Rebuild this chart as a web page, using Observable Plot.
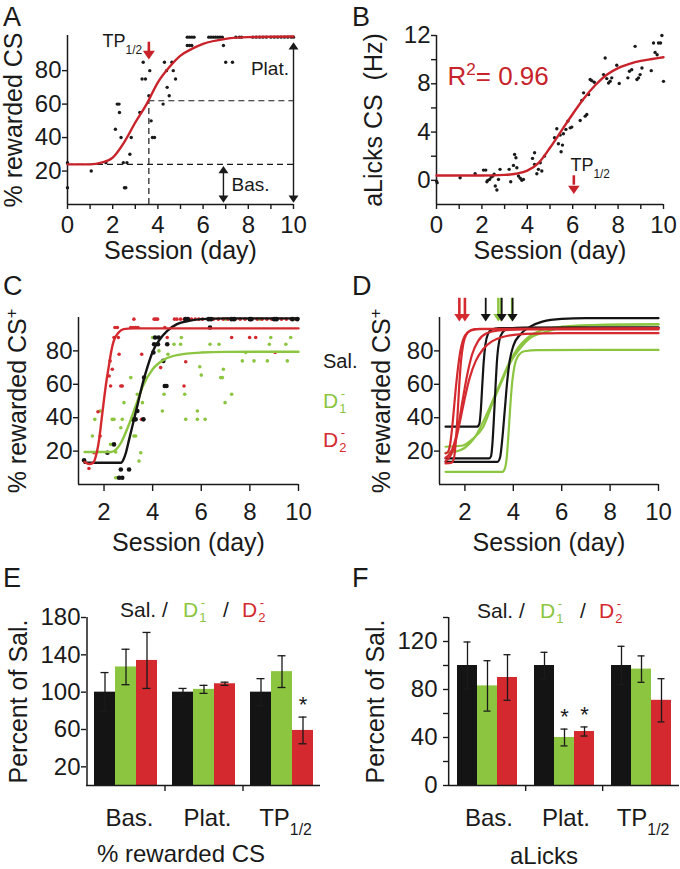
<!DOCTYPE html>
<html>
<head>
<meta charset="utf-8">
<script src="https://cdn.jsdelivr.net/npm/d3@7"></script>
<script src="https://cdn.jsdelivr.net/npm/@observablehq/plot@0.6"></script>
<style>
html,body{margin:0;padding:0;background:#fff;}
#fig{position:relative;width:680px;height:869px;overflow:hidden;font-family:"Liberation Sans",Arial,Helvetica,sans-serif;color:#1a1a1a;}
.pn{position:absolute;}
.letter{position:absolute;font-size:27px;line-height:1;}
.lg{position:absolute;line-height:1;white-space:nowrap;}
.ss{display:inline-flex;flex-direction:column;align-items:center;font-size:62%;line-height:1.15;vertical-align:10px;margin:-8px 0 -8px 1px;}
.cap{position:absolute;font-size:24px;line-height:1;white-space:nowrap;}
</style>
</head>
<body>
<div id="fig"></div>
<script>
// ---------------- data ----------------
// Panel A : % rewarded CS, one animal
const aDay = [0,0,1.05,1.7,2.12,2.2,2.28,2.3,2.37,2.47,2.63,2.52,2.58,2.76,2.82,3.2,3.35,3.3,3.45,3.64,3.6,3.7,3.76,3.85,4.23,4.29,4.62,4.38,4.41,4.5,4.78,4.68,
  5.3,5.4,5.5,5.6,5.3,5.4,5.5,6.25,6.35,6.45,6.55,6.65,6.75,6.85,6.9,7.0,7.3,7.45,7.6,7.7,8.2,8.35,8.5,8.65,8.8,9.0,9.15,9.3,9.45,9.6,9.75,9.9,10];
const aPct = [10,25,20,25,45,60,60,55,40,25,25,10,10,30,40,55,85,75,75,80,65,50,40,40,60,85,85,80,70,65,75,80,
  100,100,100,100,95,95,95,100,100,100,100,100,100,100,95,85,85,100,100,100,100,100,100,100,100,100,100,100,100,100,100,100,100];
const aFitDay = [0,1,1.5,2,2.5,3,3.5,4,4.5,5,5.5,6,7,8,10];
const aFitPct = [24,24,25,28,37,49,60,73,82,89,93,96,99,100,100.4];
const aBase = 24, aHalf = 62, aTP = 3.6;

// Panel B : aLicks CS (Hz)
const bDay = [0,0.03,1.04,1.70,2.07,2.17,2.22,2.26,2.34,2.41,2.48,2.54,2.59,2.66,2.73,2.80,3.20,3.27,3.39,3.44,
  3.50,3.54,3.61,3.69,3.76,3.83,4.23,4.32,4.32,4.42,4.49,4.57,4.64,4.76,5.20,5.30,5.37,5.45,5.49,5.55,
  5.59,5.70,5.79,5.89,5.96,6.33,6.40,6.48,6.55,6.62,6.70,6.77,6.84,6.95,7.36,7.43,7.50,7.58,7.65,7.72,
  7.94,8.05,8.43,8.50,8.60,8.83,8.90,8.97,9.05,8.75,9.46,9.56,9.63,9.72,9.78,9.87,9.93,10.0];
const bLicks = [-0.06,-0.19,0.22,0.55,0.85,0.85,-0.11,0,0.08,0.28,0.36,0.5,-0.47,-0.8,0.08,0.91,0.91,-0.11,1.24,2.15,
  1.87,1.05,0.36,0.17,0,0.08,1.82,2.29,1.32,0.55,0.91,1.46,0.77,2.01,3.53,4.27,3.03,3.75,2.37,2.92,
  3.86,4.22,4.91,4.35,4.41,4.96,6.61,7.25,5.32,5.45,7.11,8.35,8.26,8.13,8.76,10.14,8.43,8.07,8.21,8.49,
  9.53,8.02,8.49,9.04,9.17,8.35,8.49,8.76,9.31,11.1,9.09,11.38,10.6,10.4,11.38,11.38,12.0,8.2];
const bFitDay = [0,1,2,3,3.5,4,4.5,5,5.5,6,6.5,7,7.5,8,8.5,9,9.5,10];
const bFitLicks = [0.4,0.4,0.4,0.45,0.55,0.8,1.45,2.7,4.1,5.5,6.8,7.9,8.75,9.3,9.65,9.9,10.05,10.2];
const bTP = 6.05, bR2 = "0.96";

// Panel C : group data
const cSalDay = [1.18,2.14,2.41,2.62,2.69,2.75,3.03,3.17,3.23,3.3,3.37,3.62,3.65,4.03,4.06,4.1,4.22,4.25,4.44,4.5,4.57,4.6,6.36,
  5.35,5.45,6.3,6.4,7.25,7.35,8.0,8.05,9.0,9.1,9.75,9.95];
const cSalPct = [14.5,19,24,4,9,4,9,39,39,39,44,39,64,79,84,88,84,88,74,59,59,84,94,
  99,99,99,99,99,99,99,99,99,99,99,99];
const cD1Day = [1.18,1.52,1.62,1.84,2.27,2.34,2.41,2.48,2.48,2.55,2.69,2.75,2.82,3.1,3.23,3.3,3.37,3.44,3.51,3.58,
  4.0,4.06,4.13,4.22,4.26,4.4,4.47,4.63,4.88,5.15,5.18,5.32,5.36,5.84,5.84,5.94,6.0,6.16,6.36,6.73,
  6.8,6.87,6.91,6.98,7.25,7.69,7.83,8.17,8.72,8.8,8.86,9.48,9.54,9.68,9.95,9.8,8.4,7.0];
const cD1Pct = [14,29,39,44,24,39,39,19.5,4,4,34,39,49,64,29,29,54,14,19,49,
  88,88,84,84,80,44,54,78,84,84,88,54,39,44,39,70.5,65.5,39,84,84,
  64,64,69,49,54,74,79,74,74,84,88,84,74,88,99,99,99,99];
const cD2Day = [1.18,1.38,1.59,1.75,1.84,2.21,2.25,2.27,2.34,2.41,2.59,2.45,2.55,2.62,2.69,2.75,3.1,3.2,3.3,3.4,
  3.23,3.55,3.54,4.06,4.13,4.2,4.33,4.5,4.6,4.9,5.29,5.36,
  5.0,5.15,5.3,5.45,5.6,5.75,5.9,6.05,6.3,6.5,6.7,6.9,7.1,7.4,7.6,7.8,8.1,8.3,8.5,8.7,8.9,9.1,9.3,9.5,9.7,9.9,
  7.25,7.99,8.24,9.04];
const cD2Pct = [14.5,9.6,19,43.6,29,65,74,59,69,88,88,94,94,78,59,59,94,94,94,94,
  99,78,39,99,99,99,70,94,88,99,59,73.5,
  99,99,99,99,99,99,99,99,99,99,99,99,99,99,99,99,99,99,99,99,99,99,99,99,99,99,
  88,88,88,79];
const cFitSal = [[1.2,13],[2.7,13],[2.8,15],[2.9,19],[3.0,25],[3.2,37],[3.4,49],[3.6,61],[3.8,71],[4.0,79.5],[4.3,87],[4.6,92],[5.0,96],[5.5,98],[6.0,99],[7,99.5],[10,99.5]];
const cFitD1 = [[1.2,19.5],[2.3,19.5],[2.5,21],[2.7,25],[3.0,35],[3.3,47],[3.6,59],[4.0,69],[4.5,75],[5.0,77.5],[6.0,79],[7,79.4],[10,79.5]];
const cFitD2 = [[1.2,13.5],[1.4,12.2],[1.55,13],[1.7,19],[1.8,27],[1.9,39],[2.0,51],[2.1,62],[2.2,71],[2.3,80],[2.4,86],[2.6,91],[2.8,93],[3.2,93.5],[10,93.5]];

// Panel D : individual fits and their TP1/2
const dFitSal = [
  [[1.2,34.6],[2.5,34.6],[2.6,36.5],[2.66,45],[2.72,60],[2.78,74],[2.85,84],[2.95,90],[3.1,92.6],[3.4,93.6],[10,94]],
  [[1.2,15.6],[3.0,15.6],[3.08,17],[3.14,25],[3.2,40],[3.27,60],[3.33,75],[3.42,86],[3.55,91],[3.8,93.5],[4.5,94],[10,94]],
  [[1.2,13.6],[3.35,13.6],[3.45,16],[3.55,28],[3.65,45],[3.75,62],[3.85,74],[4.0,83],[4.3,90],[4.7,94.5],[5.2,97.5],[6,99.2],[7,99.6],[10,99.6]]
];
const dFitD1 = [
  [[1.2,22.6],[1.86,23.2],[2.35,27.6],[2.76,34.6],[3.17,49.6],[3.52,61.6],[3.86,72.6],[4.28,81.6],[4.69,87.6],[5.38,91.6],[6.35,94.6],[8,95.8],[10,96]],
  [[1.2,19],[1.6,19.6],[2.0,22],[2.4,28],[2.8,39],[3.2,52],[3.5,62],[3.8,72],[4.2,82],[4.6,88],[5.2,92.5],[6,94.5],[7.5,95.5],[10,95.8]],
  [[1.2,7.6],[3.55,7.6],[3.65,9.5],[3.72,15],[3.8,30],[3.88,48],[3.96,62],[4.05,71],[4.2,77],[4.45,79.8],[5,80.5],[10,80.6]]
];
const dFitD2 = [
  [[1.2,12.6],[1.45,13],[1.55,16],[1.62,25],[1.69,40],[1.76,58],[1.84,74],[1.93,84],[2.05,89.5],[2.25,92.2],[2.6,93.2],[10,93.4]],
  [[1.2,18.6],[1.3,19.5],[1.4,25],[1.5,38],[1.6,54],[1.7,68],[1.8,79],[1.92,86.5],[2.1,91],[2.4,93],[10,93.6]],
  [[1.2,14],[1.4,17],[1.6,25],[1.8,38],[2.0,52],[2.2,64],[2.45,74],[2.75,81],[3.1,85.5],[3.6,88.5],[4.5,90.2],[6,90.6],[10,90.6]],
  [[1.2,16],[1.5,22],[1.7,33],[1.9,50],[2.1,66],[2.3,78],[2.55,86],[2.9,90.5],[3.4,92.2],[4.5,92.8],[10,92.8]]
];
const dTPSal = [2.86, 3.52, 3.97];
const dTPD1 = [3.38, 3.49, 3.95];
const dTPD2 = [1.77, 2.0];

// Panels E, F : percent of saline
const barGroups = ["Bas.", "Plat.", "TP_{1/2}"];
const barSeries = ["Sal.", "D1-", "D2-"];
const eMean = [100,127,134, 100,103,109, 100,122,59];
const eErr  = [21,19,30, 4,4.3,1.7, 14.5,17,14.3];
const eStar = [0,0,0, 0,0,0, 0,0,1];
const fMean = [100,83,90, 100,40,45, 100,97,71];
const fErr  = [19.6,21,19, 11,7,3.8, 16,11,18];
const fStar = [0,0,0, 0,1,1, 0,0,0];

// ---------------- style ----------------
const INK = "#1a1a1a", LRED = "#c8232b", GREEN = "#8cc540", RED = "#d42a2f", BLK = "#141414";
const FONT = '"Liberation Sans", Arial, Helvetica, sans-serif';
const TICK = 24, TITLE = 25, CAT = 24;
const svgStyle = {fontFamily: FONT, fontSize: TICK + "px", color: INK, background: "transparent", overflow: "visible"};

function tri(dir) {
  return {draw(ctx, size) {
    const s = Math.sqrt(size), w = 1.3 * s, h = 0.95 * s;
    ctx.moveTo(0, 0); ctx.lineTo(-w / 2, dir * h); ctx.lineTo(w / 2, dir * h); ctx.closePath();
  }};
}
const headDown = tri(-1), headUp = tri(1);

function richify(root) {
  const NS = "http://www.w3.org/2000/svg";
  root.querySelectorAll("text, tspan").forEach(t => {
    if (t.childElementCount) return;
    const s = t.textContent;
    if (!/[_^]\{/.test(s)) return;
    while (t.firstChild) t.removeChild(t.firstChild);
    const re = /([_^])\{([^}]*)\}/g; let last = 0, m;
    while ((m = re.exec(s))) {
      if (m.index > last) t.appendChild(document.createTextNode(s.slice(last, m.index)));
      const ts = document.createElementNS(NS, "tspan");
      ts.setAttribute("baseline-shift", m[1] === "^" ? "super" : "sub");
      ts.style.fontSize = "66%";
      ts.textContent = m[2];
      t.appendChild(ts);
      last = re.lastIndex;
    }
    if (last < s.length) t.appendChild(document.createTextNode(s.slice(last)));
  });
}
function sizeAxes(root) {
  root.querySelectorAll('g[aria-label$="-axis tick label"]').forEach(g => {
    g.setAttribute("font-size", g.getAttribute("aria-label").startsWith("fx") ? CAT : TICK);
  });
  root.querySelectorAll('g[aria-label$="-axis label"]').forEach(g => g.setAttribute("font-size", TITLE));
}

const fig = document.getElementById("fig");
function place(node, left, top) {
  const d = document.createElement("div");
  d.className = "pn"; d.style.left = left + "px"; d.style.top = top + "px";
  d.appendChild(node); fig.appendChild(d); sizeAxes(node); richify(node);
}
function html(cls, left, top, inner, extra) {
  const d = document.createElement("div");
  d.className = cls; d.style.left = left + "px"; d.style.top = top + "px";
  if (extra) Object.assign(d.style, extra);
  d.innerHTML = inner; fig.appendChild(d);
}

function axes({xMajor, xMinor, yMajor, yMinor, xLabel, yLabel, xOff, yOff, xPad = 6, yPad = 1, xTick = 5, xLabelDx = 0}) {
  const m = [
    Plot.axisX({ticks: xMajor, tickSize: xTick, tickPadding: xPad, strokeWidth: 1.4, label: null}),
    Plot.axisY({ticks: yMajor, tickSize: 5, tickPadding: yPad, strokeWidth: 1.4, label: null}),
    Plot.axisX({ticks: [], label: xLabel, labelAnchor: "center", labelOffset: xOff, labelArrow: "none", dx: xLabelDx}),
    Plot.axisY({ticks: [], label: yLabel, labelAnchor: "center", labelOffset: yOff, labelArrow: "none"})
  ];
  if (xMinor) m.push(Plot.axisX({ticks: xMinor, tickSize: xTick, strokeWidth: 1.4, tickFormat: () => "", label: null}));
  if (yMinor) m.push(Plot.axisY({ticks: yMinor, tickSize: 5, strokeWidth: 1.4, tickFormat: () => "", label: null}));
  return m;
}
const frameLines = (x0, y0) => [
  Plot.ruleY([y0], {stroke: INK, strokeWidth: 1.5}),
  Plot.ruleX([x0], {stroke: INK, strokeWidth: 1.5})
];
const flat = (curves) => curves.flatMap((c, k) => c.map(([x, y]) => ({x, y, k})));

// ---------------- Panel A ----------------
place(Plot.plot({
  width: 340, height: 270, marginLeft: 67, marginRight: 47, marginTop: 35, marginBottom: 66,
  style: svgStyle,
  x: {domain: [0, 10]}, y: {domain: [0, 101]},
  marks: [
    ...frameLines(0, 0),
    Plot.ruleY([aBase], {x1: 0, x2: 10, stroke: INK, strokeWidth: 1.2, strokeDasharray: "6,4"}),
    Plot.ruleY([aHalf], {x1: aTP, x2: 10, stroke: INK, strokeWidth: 1.2, strokeDasharray: "6,4"}),
    Plot.ruleX([aTP], {y1: 0, y2: aHalf, stroke: INK, strokeWidth: 1.2, strokeDasharray: "6,4"}),
    Plot.ruleX([6.9], {y1: 3, y2: 21, stroke: INK, strokeWidth: 1.4}),
    Plot.dot([6.9], {x: d => d, y: 1, symbol: headDown, r: 4.3, fill: INK, stroke: "none"}),
    Plot.dot([6.9], {x: d => d, y: 23, symbol: headUp, r: 4.3, fill: INK, stroke: "none"}),
    Plot.ruleX([10], {y1: 3, y2: 95, stroke: INK, strokeWidth: 1.4}),
    Plot.dot([10], {x: d => d, y: 1, symbol: headDown, r: 4.3, fill: INK, stroke: "none"}),
    Plot.dot([10], {x: d => d, y: 97, symbol: headUp, r: 4.3, fill: INK, stroke: "none"}),
    Plot.dot(aDay, {x: aDay, y: aPct, r: 1.7, fill: INK, stroke: "none"}),
    Plot.line(aFitDay, {x: aFitDay, y: aFitPct, curve: "monotone-x", stroke: LRED, strokeWidth: 2.4}),
    Plot.ruleX([aTP], {y1: 97, y2: 91, stroke: LRED, strokeWidth: 2.6}),
    Plot.dot([aTP], {x: d => d, y: 86.7, symbol: headDown, r: 5.2, fill: LRED, stroke: "none"}),
    Plot.text(["TP_{1/2}"], {x: 3.3, y: 97.8, textAnchor: "end", fontSize: 18, fill: INK}),
    Plot.text(["Plat."], {x: 9.8, y: 80.8, textAnchor: "end", fontSize: 19, fill: INK}),
    Plot.text(["Bas."], {x: 7.26, y: 11.8, textAnchor: "start", fontSize: 19, fill: INK}),
    ...axes({xMajor: [0,2,4,6,8,10], xMinor: [1,3,5,7,9], yMajor: [20,40,60,80],
      xLabel: "Session (day)", yLabel: "% rewarded CS", xOff: 54, yOff: 63, xLabelDx: -16})
  ]
}), 0, 0);

// ---------------- Panel B ----------------
place(Plot.plot({
  width: 340, height: 270, marginLeft: 96, marginRight: 17, marginTop: 35, marginBottom: 66,
  style: svgStyle,
  x: {domain: [0, 10]}, y: {domain: [-2, 12]},
  marks: [
    ...frameLines(0, -2),
    Plot.dot(bDay, {x: bDay, y: bLicks, r: 1.7, fill: INK, stroke: "none"}),
    Plot.line(bFitDay, {x: bFitDay, y: bFitLicks, curve: "monotone-x", stroke: LRED, strokeWidth: 2.4}),
    Plot.ruleX([bTP], {y1: 0.38, y2: -0.4, stroke: LRED, strokeWidth: 2.6}),
    Plot.dot([bTP], {x: d => d, y: -1.14, symbol: headDown, r: 5, fill: LRED, stroke: "none"}),
    Plot.text(["TP_{1/2}"], {x: 5.9, y: 1.28, textAnchor: "start", fontSize: 18, fill: INK}),
    Plot.text([bR2], {x: 0.48, y: 8.6, text: d => "R^{2}= " + d, textAnchor: "start", fontSize: 26, fill: LRED}),
    ...axes({xMajor: [0,2,4,6,8,10], xMinor: [1,3,5,7,9], yMajor: [0,4,8,12], yMinor: [2,6,10],
      xLabel: "Session (day)", yLabel: "aLicks CS  (Hz)", xOff: 54, yOff: 72, xLabelDx: -17})
  ]
}), 340, 0);

// ---------------- Panel C ----------------
place(Plot.plot({
  width: 340, height: 270, marginLeft: 78, marginRight: 42, marginTop: 27, marginBottom: 76,
  style: svgStyle,
  x: {domain: [0.95, 10]}, y: {domain: [0, 100]},
  marks: [
    ...frameLines(0.95, 0),
    Plot.dot(cD1Day, {x: cD1Day, y: cD1Pct, r: 1.8, fill: GREEN, stroke: "none"}),
    Plot.dot(cD2Day, {x: cD2Day, y: cD2Pct, r: 1.8, fill: RED, stroke: "none"}),
    Plot.dot(cSalDay, {x: cSalDay, y: cSalPct, r: 2.3, fill: BLK, stroke: "none"}),
    Plot.line(cFitD1, {x: d => d[0], y: d => d[1], curve: "monotone-x", stroke: GREEN, strokeWidth: 2.4}),
    Plot.line(cFitSal, {x: d => d[0], y: d => d[1], curve: "monotone-x", stroke: BLK, strokeWidth: 2.4}),
    Plot.line(cFitD2, {x: d => d[0], y: d => d[1], curve: "monotone-x", stroke: RED, strokeWidth: 2.4}),
    ...axes({xMajor: [2,4,6,8,10], yMajor: [20,40,60,80], xTick: 7, xPad: 11,
      xLabel: "Session (day)", yLabel: "% rewarded CS^{+}", xOff: 66, yOff: 70})
  ]
}), 0, 290);

// ---------------- Panel D ----------------
const arrowMarks = (xs, color, sw) => [
  Plot.ruleX(xs, {x: d => d, y1: 111.5, y2: 101, stroke: color, strokeWidth: sw}),
  Plot.dot(xs, {x: d => d, y: 97.6, symbol: headDown, r: 4.4, fill: color, stroke: "none"})
];
place(Plot.plot({
  width: 340, height: 270, marginLeft: 99, marginRight: 22, marginTop: 27, marginBottom: 76,
  style: svgStyle,
  x: {domain: [0.95, 10]}, y: {domain: [0, 100]},
  marks: [
    ...frameLines(0.95, 0),
    Plot.line(flat(dFitD1), {x: "x", y: "y", z: "k", curve: "monotone-x", stroke: GREEN, strokeWidth: 2.2}),
    Plot.line(flat(dFitSal), {x: "x", y: "y", z: "k", curve: "monotone-x", stroke: BLK, strokeWidth: 2.2}),
    Plot.line(flat(dFitD2), {x: "x", y: "y", z: "k", curve: "monotone-x", stroke: RED, strokeWidth: 2.2}),
    ...arrowMarks(dTPD1, GREEN, 2.4),
    ...arrowMarks(dTPSal, BLK, 1.8),
    ...arrowMarks(dTPD2, RED, 2.6),
    ...axes({xMajor: [2,4,6,8,10], yMajor: [20,40,60,80], xTick: 7, xPad: 11,
      xLabel: "Session (day)", yLabel: "% rewarded CS^{+}", xOff: 66, yOff: 67, xLabelDx: 4})
  ]
}), 340, 290);

// ---------------- Panels E, F ----------------
function barPanel(mean, err, star, {yDomain, yMajor, yMinor, marginLeft, marginRight, pad, yOff, yPad, catDx}) {
  const rows = barGroups.flatMap((g, gi) => barSeries.map((s, si) => ({
    group: g, series: s, mean: mean[gi * 3 + si], err: err[gi * 3 + si], star: star[gi * 3 + si]})));
  const width = 340, facetW = (width - marginLeft - marginRight) / barGroups.length;
  const marks = [
    Plot.barY(rows, {x: "series", y: "mean", fill: "series"}),
    Plot.ruleX(rows, {x: "series", y1: d => d.mean - d.err, y2: d => d.mean + d.err, stroke: INK, strokeWidth: 1.3}),
    Plot.tickY(rows, {x: "series", y: d => d.mean + d.err, insetLeft: 6.5, insetRight: 6.5, stroke: INK, strokeWidth: 1.3}),
    Plot.tickY(rows, {x: "series", y: d => d.mean - d.err, insetLeft: 6.5, insetRight: 6.5, stroke: INK, strokeWidth: 1.3}),
    Plot.text(rows, {filter: d => d.star, x: "series", y: d => d.mean + d.err, text: () => "*", dy: -12, fontSize: 22, fill: INK}),
    Plot.ruleY([yDomain[0]], {stroke: INK, strokeWidth: 1.5}),
    Plot.ruleX(rows, {filter: d => d.series === barSeries[1] && d.group === barGroups[0], x: "series",
      y1: yDomain[0], y2: yDomain[1], dx: -facetW / 2, stroke: INK, strokeWidth: 1.5}),
    Plot.ruleX(rows, {filter: d => d.series === barSeries[1] && d.group !== barGroups[0], x: "series",
      y1: yDomain[0], y2: yDomain[0], insetBottom: -6, dx: -facetW / 2, stroke: INK, strokeWidth: 1.4}),
    Plot.axisY({ticks: yMajor, tickSize: 5, tickPadding: yPad, strokeWidth: 1.4, label: null}),
    Plot.axisY({ticks: [], label: "Percent of Sal.", labelAnchor: "center", labelOffset: yOff, labelArrow: "none"}),
    Plot.axisFx({anchor: "bottom", tickSize: 0, tickPadding: 23, dx: catDx, label: null})
  ];
  if (yMinor) marks.push(Plot.axisY({ticks: yMinor, tickSize: 5, strokeWidth: 1.4, tickFormat: () => "", label: null}));
  return Plot.plot({
    width, height: 289, marginLeft, marginRight, marginTop: 37, marginBottom: 84,
    style: svgStyle,
    facet: {data: rows, x: "group"},
    fx: {domain: barGroups, padding: 0},
    x: {domain: barSeries, paddingInner: 0, paddingOuter: pad, axis: null},
    y: {domain: yDomain},
    color: {domain: barSeries, range: [BLK, GREEN, RED]},
    marks
  });
}
place(barPanel(eMean, eErr, eStar, {yDomain: [0, 180], yMajor: [20,60,100,140,180], marginLeft: 86, marginRight: 20, pad: 0.33, yOff: 77, yPad: 1, catDx: 4}), 0, 580);
place(barPanel(fMean, fErr, fStar, {yDomain: [0, 140], yMajor: [0,40,80,120], yMinor: [20,60,100,140], marginLeft: 107, marginRight: 0, pad: 0.38, yOff: 82, yPad: 6, catDx: 2}), 340, 580);

// ---------------- letters, legends, captions ----------------
[["A",3,4],["B",352,4],["C",3,273],["D",352,273],["E",3,565],["F",352,565]].forEach(([t,x,y]) => html("letter", x, y, t));
const D1 = `D<span class="ss"><span>-</span><span>1</span></span>`;
const D2 = `D<span class="ss"><span>-</span><span>2</span></span>`;
html("lg", 323, 351, "Sal.", {fontSize: "20px"});
html("lg", 323, 390, D1, {fontSize: "21px", color: GREEN});
html("lg", 323, 429, D2, {fontSize: "21px", color: RED});
function triLegend(x0, y0) {
  html("lg", x0, y0, "Sal.", {fontSize: "21px"});
  html("lg", x0 + 42, y0, "/", {fontSize: "21px"});
  html("lg", x0 + 63, y0, D1, {fontSize: "21px", color: GREEN});
  html("lg", x0 + 103, y0, "/", {fontSize: "21px"});
  html("lg", x0 + 122, y0, D2, {fontSize: "21px", color: RED});
}
triLegend(120, 599);
triLegend(477, 600);
html("cap", 97, 842, "% rewarded CS");
html("cap", 510, 844, "aLicks");
</script>
</body>
</html>
